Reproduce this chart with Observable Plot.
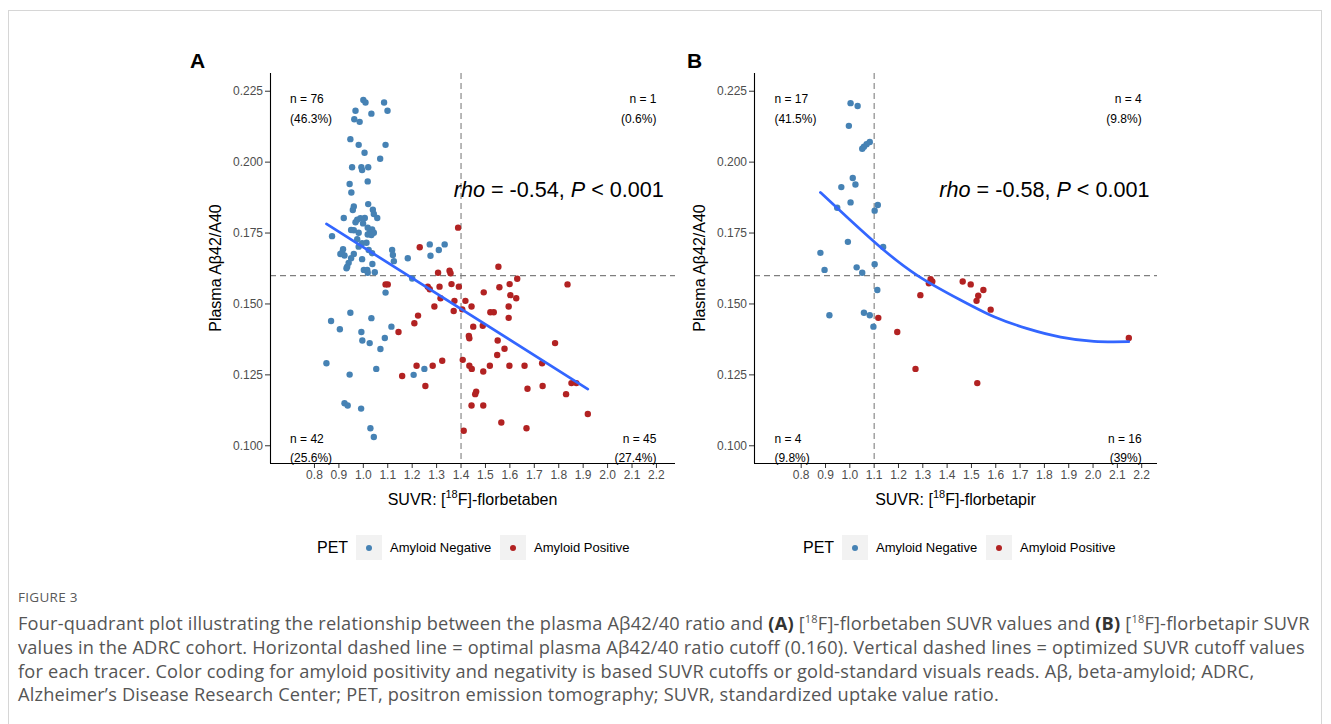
<!DOCTYPE html>
<html><head><meta charset="utf-8">
<script src="https://cdn.jsdelivr.net/npm/d3@7"></script>
<script src="https://cdn.jsdelivr.net/npm/@observablehq/plot@0.6"></script>
<style>
html,body{margin:0;padding:0;background:#fff;}
#page{position:relative;width:1331px;height:724px;overflow:hidden;font-family:"Liberation Sans",Arial,sans-serif;}
#border{position:absolute;left:8px;top:10px;width:1314px;height:800px;border:1px solid #d6d6d6;box-sizing:border-box;}
.panel{position:absolute;top:40px;}
.panel svg{overflow:visible;}
.panel g[aria-label$="tick label"]{fill:#4d4d4d;}
.panel g[aria-label$="-axis tick"]{stroke:#333;}
.tag{position:absolute;font-weight:bold;font-size:21px;color:#000;line-height:1;}
.leg{position:absolute;top:535px;height:25px;}
.leg .t{position:absolute;top:0;height:25px;line-height:25px;white-space:nowrap;color:#000;}
.leg .k{position:absolute;top:0;width:26px;height:25px;background:#f2f2f2;}
.leg .k i{position:absolute;left:10px;top:9.5px;width:6px;height:6px;border-radius:50%;}
#fig{position:absolute;left:18px;top:589px;font-family:"Open Sans",sans-serif;font-size:13.5px;line-height:16px;color:#595959;letter-spacing:0.3px;}
.cap{position:absolute;left:18px;font-family:"Open Sans",sans-serif;font-size:18.2px;letter-spacing:0.2px;line-height:24px;color:#555;white-space:nowrap;}
.cap b{color:#333;}
.cap sup{font-size:11px;line-height:0;}
</style>
</head><body>
<div id="page">
  <div id="border"></div>
  <div class="tag" style="left:190px;top:50px;">A</div>
  <div class="tag" style="left:687px;top:50px;">B</div>
  <div id="panelA" class="panel" style="left:170px;"></div>
  <div id="panelB" class="panel" style="left:655px;"></div>
  <div id="legA" class="leg" style="left:317px;"></div>
  <div id="legB" class="leg" style="left:803px;"></div>
  <div id="fig">FIGURE 3</div>
  <div class="cap" style="top:611px;">Four-quadrant plot illustrating the relationship between the plasma Aβ42/40 ratio and <b>(A)</b> [<sup>18</sup>F]-florbetaben SUVR values and <b>(B)</b> [<sup>18</sup>F]-florbetapir SUVR</div>
  <div class="cap" style="top:635px;">values in the ADRC cohort. Horizontal dashed line = optimal plasma Aβ42/40 ratio cutoff (0.160). Vertical dashed lines = optimized SUVR cutoff values</div>
  <div class="cap" style="top:659px;">for each tracer. Color coding for amyloid positivity and negativity is based SUVR cutoffs or gold-standard visuals reads. Aβ, beta-amyloid; ADRC,</div>
  <div class="cap" style="top:682px;">Alzheimer’s Disease Research Center; PET, positron emission tomography; SUVR, standardized uptake value ratio.</div>
</div>
<script>
// ---------- data ----------
const petLevels = ["Amyloid Negative", "Amyloid Positive"];
const petColors = ["#4682B4", "#B22222"];
const xTicks = [0.8,0.9,1.0,1.1,1.2,1.3,1.4,1.5,1.6,1.7,1.8,1.9,2.0,2.1,2.2];
const yTicks = [0.100,0.125,0.150,0.175,0.200,0.225];
const ratioCutoff = 0.160;
const suvrCutoffA = 1.40;
const suvrCutoffB = 1.10;

// Panel A: florbetaben, amyloid negative (SUVR, ratio)
const negA = [
 [1.000,0.2219],[1.009,0.2210],[1.085,0.2210],[0.968,0.2181],[1.099,0.2181],[1.033,0.2171],[0.963,0.2151],[0.985,0.2142],
 [0.947,0.2081],[0.981,0.2061],[1.091,0.2061],[1.005,0.2033],[1.069,0.2012],[0.954,0.1982],[0.992,0.1982],[0.995,0.1972],
 [1.020,0.1982],[1.018,0.1932],[0.944,0.1923],
 [0.951,0.1893],[0.961,0.1844],[0.957,0.1831],[1.020,0.1852],[1.039,0.1832],[1.043,0.1817],[1.057,0.1803],[0.920,0.1803],
 [0.975,0.1797],[0.988,0.1802],[1.006,0.1803],[0.968,0.1788],[0.999,0.1784],[0.950,0.1761],[0.961,0.1760],[0.981,0.1751],
 [1.018,0.1769],[1.036,0.1763],[1.026,0.1751],[1.043,0.1751],[1.033,0.1743],[1.018,0.1745],[0.872,0.1739],[0.975,0.1728],
 [0.995,0.1714],[1.013,0.1716],[0.981,0.1702],[1.022,0.1690],[1.118,0.1690],[0.917,0.1693],[0.913,0.1681],[0.923,0.1671],
 [0.906,0.1676],[1.036,0.1679],[0.961,0.1676],[0.950,0.1661],[0.995,0.1658],[1.121,0.1673],[1.125,0.1651],[1.182,0.1661],
 [1.037,0.1641],[0.940,0.1645],[0.934,0.1631],[0.931,0.1626],[1.002,0.1620],[1.016,0.1620],[1.018,0.1610],[1.047,0.1612],
 [1.272,0.1710],[1.309,0.1690],[1.333,0.1710],[1.275,0.1670],
 [1.200,0.1590],[1.091,0.1540],[0.947,0.1469],[0.868,0.1440],[0.904,0.1411],[1.033,0.1450],[0.992,0.1401],[0.996,0.1371],
 [1.026,0.1362],[1.115,0.1420],[1.088,0.1380],[1.070,0.1341],[0.849,0.1291],[0.944,0.1251],[1.053,0.1271],[1.250,0.1271],
 [1.206,0.1250],[0.923,0.1150],[0.936,0.1142],[0.991,0.1131],[1.029,0.1062],[1.043,0.1031]
];
// Panel A: florbetaben, amyloid positive
const posA = [
 [1.388,0.1769],[1.231,0.1700],[1.306,0.1610],[1.353,0.1617],[1.357,0.1608],
 [1.091,0.1569],[1.100,0.1569],[1.209,0.1432],[1.224,0.1459],[1.144,0.1401],[1.159,0.1246],[1.218,0.1282],[1.254,0.1211],
 [1.284,0.1282],[1.323,0.1300],[1.264,0.1561],[1.272,0.1552],[1.312,0.1561],[1.361,0.1570],[1.391,0.1561],[1.316,0.1520],
 [1.291,0.1491],[1.373,0.1511],[1.370,0.1475],
 [1.405,0.1481],[1.418,0.1511],[1.443,0.1491],[1.450,0.1420],[1.432,0.1387],[1.434,0.1379],[1.407,0.1303],[1.434,0.1282],
 [1.444,0.1271],[1.462,0.1191],[1.458,0.1182],[1.443,0.1142],[1.411,0.1053],[1.489,0.1423],[1.550,0.1371],[1.578,0.1342],
 [1.548,0.1320],[1.630,0.1589],[1.599,0.1570],[1.557,0.1559],[1.493,0.1541],[1.602,0.1531],[1.626,0.1520],[1.595,0.1491],
 [1.520,0.1471],[1.534,0.1471],[1.595,0.1451],[1.836,0.1569],[1.785,0.1362],[1.732,0.1291],[1.852,0.1221],[1.872,0.1221],
 [1.830,0.1182],[1.734,0.1211],[1.672,0.1201],[1.660,0.1282],[1.598,0.1282],[1.518,0.1282],[1.491,0.1262],[1.491,0.1142],
 [1.565,0.1082],[1.668,0.1062],[1.919,0.1112],
 [1.553,0.1631]
];
// Panel A linear fit (read at the ends of the drawn line)
const fitA = [[0.849,0.1782],[1.919,0.1200]];

// Panel B: florbetapir
const negB = [
 [1.003,0.2208],[1.032,0.2198],[0.996,0.2128],[1.082,0.2071],[1.069,0.2063],[1.058,0.2054],[1.051,0.2047],[1.012,0.1944],
 [1.023,0.1921],[0.965,0.1912],[1.003,0.1858],[0.948,0.1839],[1.115,0.1849],[1.102,0.1829],[0.992,0.1719],[1.137,0.1701],
 [0.879,0.1680],[1.102,0.1640],[0.896,0.1620],[1.028,0.1629],[1.051,0.1610],[1.113,0.1549],[0.916,0.1460],[1.058,0.1469],
 [1.082,0.1460],[1.097,0.1420]
];
const posB = [
 [1.117,0.1451],[1.195,0.1401],[1.270,0.1271],[1.290,0.1531],[1.325,0.1573],[1.332,0.1587],[1.339,0.1579],[1.464,0.1579],
 [1.497,0.1569],[1.549,0.1549],[1.528,0.1529],[1.521,0.1511],[1.579,0.1480],[1.524,0.1221],[2.147,0.1380]
];
// Panel B smooth curve
const fitB = [[0.879,0.1893],[1.000,0.1797],[1.126,0.1700],[1.277,0.1601],[1.455,0.1514],[1.593,0.1455],[1.730,0.1413],[1.867,0.1383],[2.004,0.1368],[2.147,0.1367]];

const quadA = ["n = 76\n(46.3%)", "n = 1\n(0.6%)", "n = 42\n(25.6%)", "n = 45\n(27.4%)"];
const quadB = ["n = 17\n(41.5%)", "n = 4\n(9.8%)", "n = 4\n(9.8%)", "n = 16\n(39%)"];
const rhoA = "rho = -0.54, P < 0.001";
const rhoB = "rho = -0.58, P < 0.001";

// ---------- drawing ----------
const FONT = '"Liberation Sans", Arial, sans-serif';
const yDomain = [0.09375, 0.23125];

function panel(cfg) {
  const pts = [
    ...cfg.neg.map(d => ({suvr: d[0], ratio: d[1], pet: petLevels[0]})),
    ...cfg.pos.map(d => ({suvr: d[0], ratio: d[1], pet: petLevels[1]}))
  ];
  const fit = cfg.fit.map(d => ({suvr: d[0], ratio: d[1]}));
  const qL = [{x: cfg.qxL, y: 0.2195, label: cfg.quad[0]}, {x: cfg.qxL, y: 0.0999, label: cfg.quad[2]}];
  const qR = [{x: 2.2, y: 0.2195, label: cfg.quad[1]}, {x: 2.2, y: 0.0999, label: cfg.quad[3]}];
  const svg = Plot.plot({
    width: cfg.width, height: 493,
    marginLeft: cfg.ml, marginRight: 15, marginTop: 33, marginBottom: 70,
    style: {fontFamily: FONT, fontSize: "12px", background: "none", overflow: "visible"},
    x: {domain: cfg.xDomain},
    y: {domain: yDomain},
    color: {domain: petLevels, range: petColors},
    marks: [
      Plot.ruleY([ratioCutoff], {stroke: "#7f7f7f", strokeWidth: 1.1, strokeDasharray: "6,4"}),
      Plot.ruleX([cfg.cutoff], {stroke: "#7f7f7f", strokeWidth: 1.1, strokeDasharray: "6,4"}),
      Plot.dot(pts, {x: "suvr", y: "ratio", fill: "pet", r: 3.2}),
      Plot.line(fit, {x: "suvr", y: "ratio", stroke: "#3366FF", strokeWidth: 2.7, curve: cfg.curve}),
      Plot.text(qL, {x: "x", y: "y", text: "label", textAnchor: "start", lineHeight: 1.6, fontSize: 12, fill: "black"}),
      Plot.text(qR, {x: "x", y: "y", text: "label", textAnchor: "end", lineHeight: 1.6, fontSize: 12, fill: "black"}),
      Plot.text([{x: 1.8, y: 0.19, label: cfg.rho}], {x: "x", y: "y", text: "label", fontSize: 21.6, fill: "black"}),
      Plot.axisX(xTicks, {tickSize: 5, tickPadding: 2, tickFormat: d3.format(".1f"), label: null, fontSize: 12}),
      Plot.axisY(yTicks, {tickSize: 5, tickPadding: 2.5, tickFormat: d3.format(".3f"), label: null, fontSize: 12}),
      Plot.ruleX([cfg.xDomain[0]], {stroke: "black", strokeWidth: 1.1}),
      Plot.ruleY([yDomain[0]], {stroke: "black", strokeWidth: 1.1})
    ]
  });
  const s = d3.select(svg);
  // italic parts of the rho annotation
  s.selectAll("text").each(function() {
    const t = this.textContent;
    if (t.startsWith("rho =")) {
      const el = d3.select(this).style("white-space", "pre");
      el.text("");
      const m = t.match(/^rho( = .*, )P( < .*)$/);
      el.append("tspan").attr("font-style", "italic").text("rho");
      el.append("tspan").text(m[1]);
      el.append("tspan").attr("font-style", "italic").text("P");
      el.append("tspan").text(m[2]);
    }
  });
  // axis titles
  const cx = cfg.ml + (cfg.width - cfg.ml - 15) / 2;
  const xt = s.append("text").attr("x", cx).attr("y", 464.6).attr("text-anchor", "middle")
    .attr("font-size", 16).attr("fill", "black").style("white-space", "pre");
  xt.append("tspan").text("SUVR: [");
  xt.append("tspan").attr("font-size", 11).attr("dy", -7).text("18");
  xt.append("tspan").attr("dy", 7).text("F]-" + cfg.tracer);
  s.append("text").attr("transform", `translate(${cfg.ml - 49.5},${(33 + 423) / 2}) rotate(-90)`)
    .attr("text-anchor", "middle").attr("font-size", 16).attr("fill", "black").text("Plasma Aβ42/A40");
  document.getElementById(cfg.id).appendChild(svg);
}

panel({id: "panelA", width: 520, ml: 100, xDomain: [0.62, 2.278], cutoff: suvrCutoffA, neg: negA, pos: posA,
       fit: fitA, curve: "linear", quad: quadA, rho: rhoA, qxL: 0.70, tracer: "florbetaben"});
panel({id: "panelB", width: 517, ml: 99, xDomain: [0.608, 2.265], cutoff: suvrCutoffB, neg: negB, pos: posB,
       fit: fitB, curve: "natural", quad: quadB, rho: rhoB, qxL: 0.69, tracer: "florbetapir"});

function legend(id) {
  const el = document.getElementById(id);
  el.innerHTML =
    `<span class="t" style="left:0;font-size:16px;">PET</span>` +
    `<span class="k" style="left:39px;"><i style="background:${petColors[0]}"></i></span>` +
    `<span class="t" style="left:73px;font-size:13px;">${petLevels[0]}</span>` +
    `<span class="k" style="left:183px;"><i style="background:${petColors[1]}"></i></span>` +
    `<span class="t" style="left:217px;font-size:13px;">${petLevels[1]}</span>`;
}
legend("legA");
legend("legB");
</script>
</body></html>
